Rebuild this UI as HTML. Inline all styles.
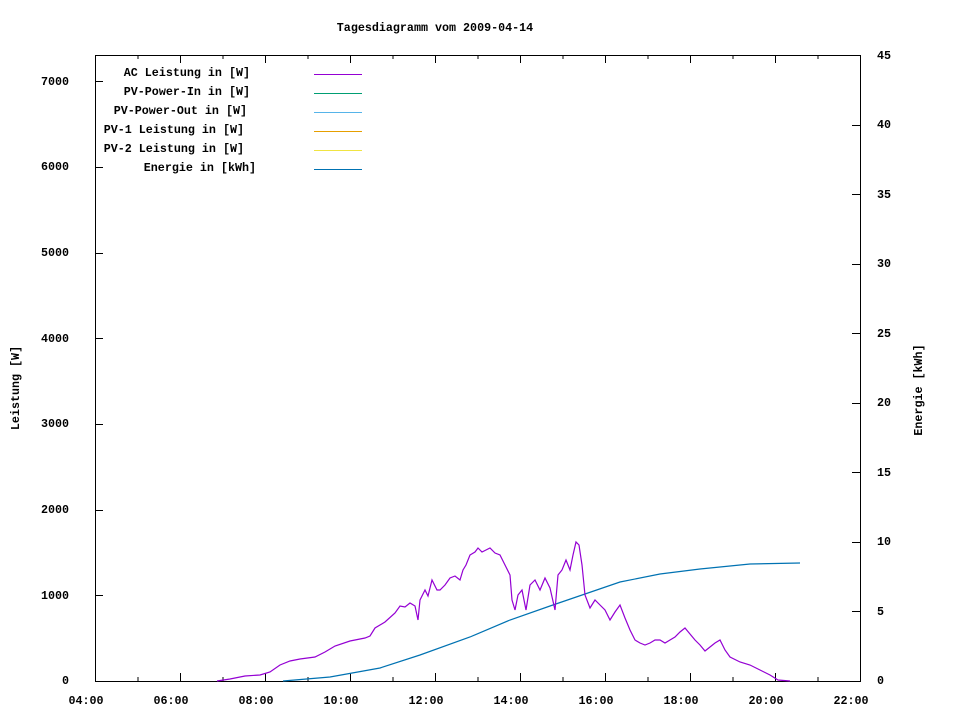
<!DOCTYPE html>
<html><head><style>body{margin:0;background:#fff}svg text{font-family:"Liberation Mono",monospace;font-size:11.7px;font-weight:bold;fill:#000}</style></head><body>
<svg width="960" height="720" xmlns="http://www.w3.org/2000/svg">
<rect width="960" height="720" fill="#fff"/>
<text x="435" y="31" text-anchor="middle">Tagesdiagramm vom 2009-04-14</text>
<rect x="95.5" y="55.5" width="765" height="626" fill="none" stroke="#000"/>
<g stroke="#000">
<path d="M95.5 681v-8M138 681v-4M180.5 681v-8M223 681v-4M265.5 681v-8M308 681v-4M350.5 681v-8M393 681v-4M435.5 681v-8M478 681v-4M520.5 681v-8M563 681v-4M605.5 681v-8M648 681v-4M690.5 681v-8M733 681v-4M775.5 681v-8M818 681v-4M860.5 681v-8"/>
<path d="M95.5 55v8M138 55v4M180.5 55v8M223 55v4M265.5 55v8M308 55v4M350.5 55v8M393 55v4M435.5 55v8M478 55v4M520.5 55v8M563 55v4M605.5 55v8M648 55v4M690.5 55v8M733 55v4M775.5 55v8M818 55v4M860.5 55v8"/>
<path d="M95 681.5h8M95 595.5h8M95 510.5h8M95 424.5h8M95 338.5h8M95 253.5h8M95 167.5h8M95 81.5h8"/>
<path d="M852 681.5h8M852 611.5h8M852 542.5h8M852 472.5h8M852 403.5h8M852 333.5h8M852 264.5h8M852 194.5h8M852 125.5h8M852 55.5h8"/>
</g>
<g text-anchor="middle">
<text x="86" y="704">04:00</text><text x="171" y="704">06:00</text><text x="256" y="704">08:00</text><text x="341" y="704">10:00</text><text x="426" y="704">12:00</text><text x="511" y="704">14:00</text><text x="596" y="704">16:00</text><text x="681" y="704">18:00</text><text x="766" y="704">20:00</text><text x="851" y="704">22:00</text>
</g>
<g text-anchor="end">
<text x="69" y="684">0</text><text x="69" y="599">1000</text><text x="69" y="513">2000</text><text x="69" y="427">3000</text><text x="69" y="342">4000</text><text x="69" y="256">5000</text><text x="69" y="170">6000</text><text x="69" y="85">7000</text>
</g>
<g>
<text x="877" y="684">0</text><text x="877" y="615">5</text><text x="877" y="545">10</text><text x="877" y="476">15</text><text x="877" y="406">20</text><text x="877" y="337">25</text><text x="877" y="267">30</text><text x="877" y="198">35</text><text x="877" y="128">40</text><text x="877" y="59">45</text>
</g>
<text transform="translate(19,388) rotate(-90)" text-anchor="middle">Leistung [W]</text>
<text transform="translate(922,390) rotate(-90)" text-anchor="middle">Energie [kWh]</text>
<g text-anchor="end">
<text x="250" y="76">AC Leistung in [W]</text>
<text x="250" y="95">PV-Power-In in [W]</text>
<text x="247" y="114">PV-Power-Out in [W]</text>
<text x="244" y="133">PV-1 Leistung in [W]</text>
<text x="244" y="152">PV-2 Leistung in [W]</text>
<text x="256" y="171">Energie in [kWh]</text>
</g>
<g stroke-width="1">
<line x1="314" y1="74.5" x2="362" y2="74.5" stroke="#9400d3"/>
<line x1="314" y1="93.5" x2="362" y2="93.5" stroke="#009e73"/>
<line x1="314" y1="112.5" x2="362" y2="112.5" stroke="#56b4e9"/>
<line x1="314" y1="131.5" x2="362" y2="131.5" stroke="#e69f00"/>
<line x1="314" y1="150.5" x2="362" y2="150.5" stroke="#f0e442"/>
<line x1="314" y1="169.5" x2="362" y2="169.5" stroke="#0072b2"/>
</g>
<polyline fill="none" stroke="#0072b2" stroke-width="1.2" points="283,681 330,677 380,668 420,655 470,637 510,620 550,606 585,594 620,582 660,574 700,569 750,564 800,563"/>
<polyline fill="none" stroke="#9400d3" stroke-width="1.2" points="217,681 230,679 245,676 260,675 270,672 280,665 290,661 300,659 315,657 325,652 335,646 350,641 365,638 370,636 375,628 385,622 395,613 400,606 405,607 410,603 415,606 418,620 420,600 425,590 428,596 432,580 437,590 440,590 445,585 450,578 455,576 460,580 463,570 466,565 470,555 475,552 478,548 482,552 486,550 490,548 495,553 500,555 505,565 510,575 512,600 515,610 518,595 522,590 526,610 530,585 535,580 540,590 545,578 550,588 555,610 558,575 562,570 566,560 570,570 573,555 576,542 579,545 582,565 585,595 590,608 595,600 600,605 605,610 610,620 615,612 620,605 625,618 630,630 635,640 640,643 645,645 650,643 655,640 660,640 665,643 670,640 675,637 680,632 685,628 690,634 695,640 700,645 705,651 710,647 715,643 720,640 725,650 730,657 740,662 750,665 760,670 770,675 778,680 790,681"/>
</svg>
</body></html>
